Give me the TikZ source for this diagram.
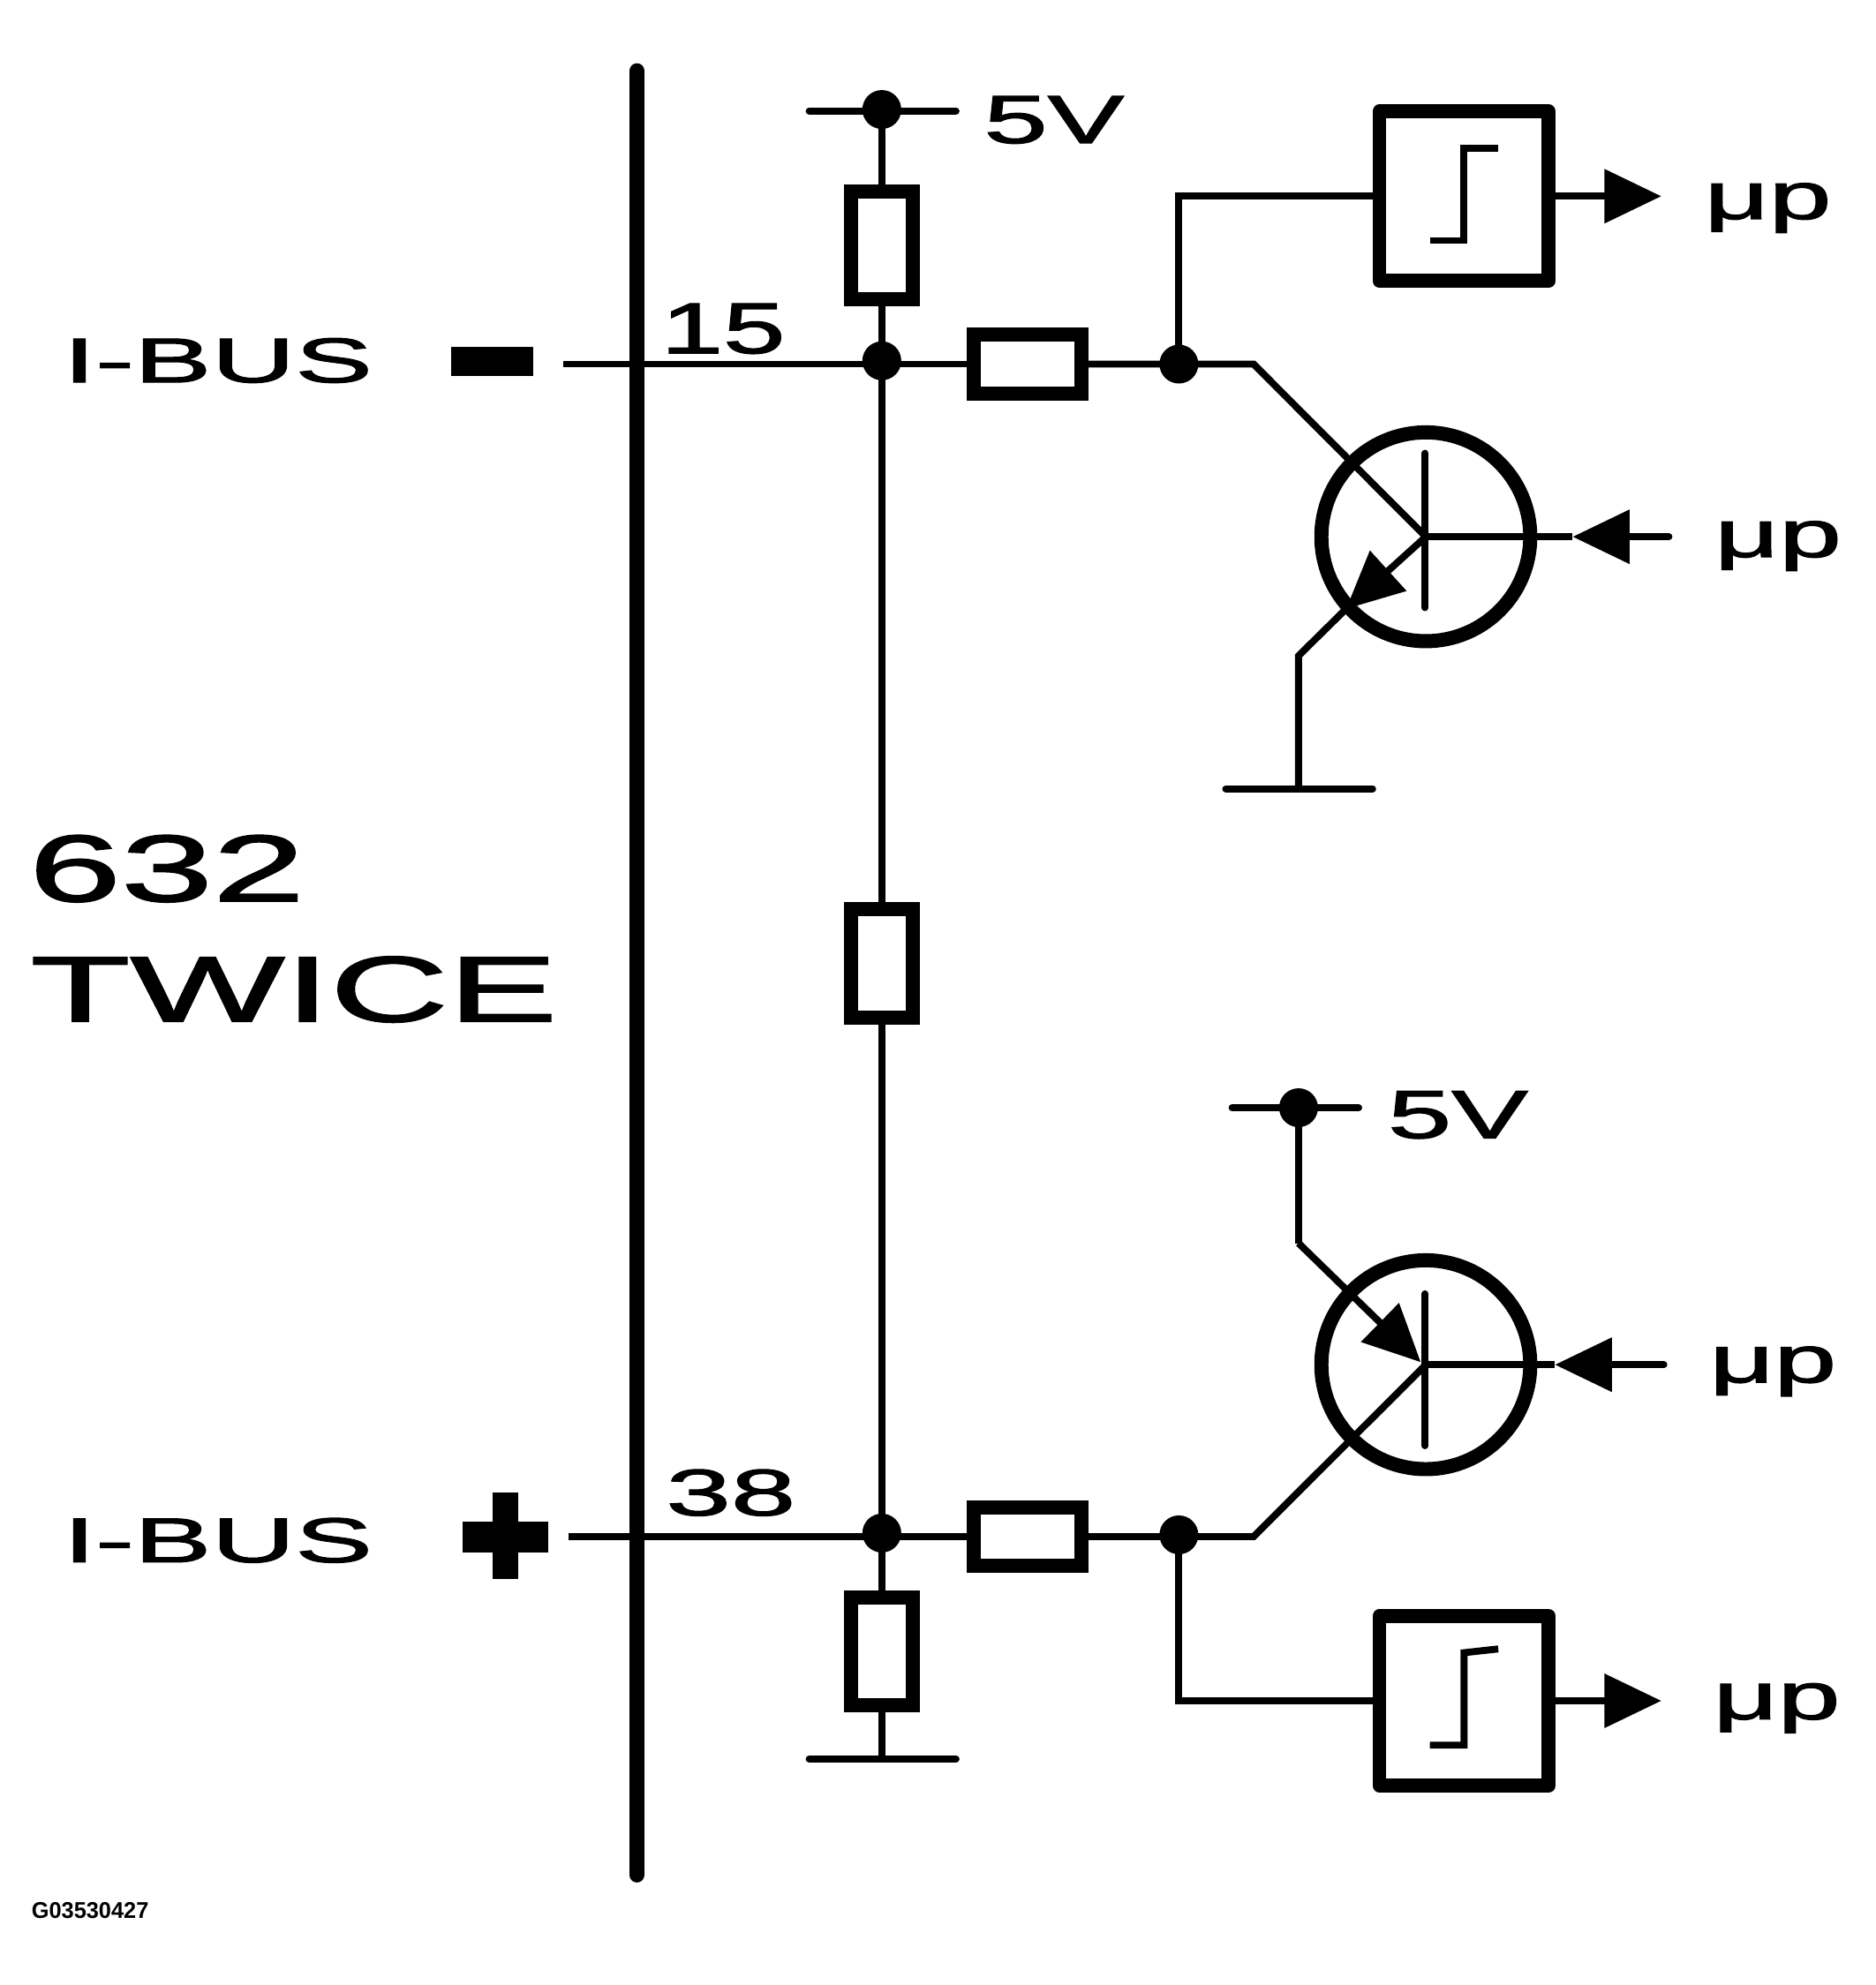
\documentclass[tikz,border=0pt]{standalone}
\usepackage{fontspec}
\setmainfont[FakeBold=1.4]{Liberation Sans}
\newfontfamily\plainsans{Liberation Sans}
\usetikzlibrary{arrows.meta}
\tikzset{
  wire/.style={line width=4.7pt,line cap=butt,line join=miter},
  rail/.style={line width=4.7pt,line cap=round},
  busbar/.style={line width=10.3pt,line cap=round},
  tipped/.style={wire,-{Triangle[length=38.4pt,width=35.6pt]}},
  rv/.style={draw,line width=9.5pt,minimum width=41.7pt,minimum height=72.7pt,inner sep=0pt,outer sep=0pt},
  rh/.style={draw,line width=9.5pt,minimum width=72.7pt,minimum height=39.7pt,inner sep=0pt,outer sep=0pt},
  trig/.style={draw,line width=9.5pt,line join=round,minimum width=114.1pt,minimum height=114.1pt,inner sep=0pt,outer sep=0pt},
  joint/.style={circle,fill=black,minimum size=26.2pt,inner sep=0pt,outer sep=0pt},
  trans/.style={circle,draw,line width=9.5pt,minimum size=140.8pt,inner sep=0pt,outer sep=0pt},
  lab/.style={anchor=base west,inner sep=0pt,outer sep=0pt,transform shape,text=black},
  pad/.style={fill=black,inner sep=0pt,outer sep=0pt},
}
\begin{document}
\begin{tikzpicture}[x=0.03cm,y=-0.03cm]
\useasboundingbox (0,0) rectangle (1481,1568);
% labels
\node[lab,xscale=1.83] (ibus1) at (50,302) {\fontsize{42.7pt}{44pt}\selectfont I-BUS};
\node[lab,xscale=1.83] (ibus2) at (50,1234) {\fontsize{42.7pt}{44pt}\selectfont I-BUS};
\node[lab,xscale=1.74] (n632) at (23,712) {\fontsize{64pt}{66pt}\selectfont 632};
\node[lab,xscale=1.75] (twice) at (24,807) {\fontsize{63pt}{66pt}\selectfont TWICE};
\node[lab,xscale=1.55] (n15) at (522,279) {\fontsize{48.6pt}{50pt}\selectfont 15};
\node[lab,xscale=1.77] (n38) at (526,1197) {\fontsize{44.4pt}{46pt}\selectfont 38};
\node[lab,xscale=1.68] (v1) at (777,113) {\fontsize{46pt}{48pt}\selectfont 5V};
\node[lab,xscale=1.68] (v2) at (1096,899) {\fontsize{46pt}{48pt}\selectfont 5V};
\node[lab,xscale=1.68] (mu1) at (1346,173) {\fontsize{45pt}{47pt}\selectfont μp};
\node[lab,xscale=1.68] (mu2) at (1354,440) {\fontsize{45pt}{47pt}\selectfont μp};
\node[lab,xscale=1.68] (mu3) at (1350,1092) {\fontsize{45pt}{47pt}\selectfont μp};
\node[lab,xscale=1.68] (mu4) at (1353,1358) {\fontsize{45pt}{47pt}\selectfont μp};
\node[lab,xscale=0.98] (code) at (25,1515) {\plainsans\fontsize{15.4pt}{16pt}\selectfont\bfseries G03530427};
% minus and plus signs
\node[pad,minimum width=55.5pt,minimum height=19.6pt] (minus) at (388.5,285.5) {};
\node[pad,minimum width=58pt,minimum height=20.5pt] (plusH) at (399,1214) {};
\node[pad,minimum width=17pt,minimum height=58pt] (plusV) at (399,1213) {};
% bus bar
\coordinate (barT) at (503,56);
\coordinate (barB) at (503,1481);
\draw[busbar] (barT) -- (barB);
% joints
\node[joint] (jV) at (696.4,86.5) {};
\node[joint] (j1) at (696.4,285) {};
\node[joint] (j2) at (696.4,1211) {};
\node[joint] (j3) at (931,287.6) {};
\node[joint] (j4) at (931,1212.4) {};
\node[joint] (jW) at (1025.5,875) {};
% resistors
\node[rv] (R1) at (696.4,193.6) {};
\node[rv] (R2) at (696.4,761) {};
\node[rv] (R3) at (696.4,1304.2) {};
\node[rh] (R4) at (811.5,287.6) {};
\node[rh] (R5) at (811.5,1213.8) {};
% trigger boxes
\node[trig] (S1) at (1156.2,155) {};
\node[trig] (S2) at (1156.2,1343.5) {};
% transistors
\node[trans] (T1) at (1126,424) {};
\node[trans] (T2) at (1126,1078) {};
% free ends
\coordinate (raL) at (639,87.6); \coordinate (raR) at (755,87.6);
\coordinate (ra2L) at (973,875); \coordinate (ra2R) at (1073,875);
\coordinate (gnL) at (639,1389.5); \coordinate (gnR) at (755,1389.5);
\coordinate (gn) at (696.4,1389.5);
\coordinate (gn2L) at (968,623); \coordinate (gn2R) at (1084,623);
\coordinate (gn2) at (1025.5,623);
\coordinate (w1) at (445,287.6); \coordinate (w2) at (449,1213.8);
\coordinate (k1) at (990,287.6); \coordinate (k2) at (990,1213.8);
\coordinate (e1) at (1025.5,518); \coordinate (tip1) at (1063,481);
\coordinate (e2) at (1025.5,982); \coordinate (tip2) at (1122,1076);
\coordinate (o1) at (1312,155); \coordinate (o2) at (1312,1343.5);
\coordinate (bi1) at (1318,424); \coordinate (bt1) at (1242,424);
\coordinate (bi2) at (1314,1078); \coordinate (bt2) at (1228,1078);
\coordinate (b1a) at (1125.5,358); \coordinate (b1b) at (1125.5,480);
\coordinate (b2a) at (1125.5,1022); \coordinate (b2b) at (1125.5,1142);
% wires
\draw[rail] (raL) -- (raR);
\draw[rail] (ra2L) -- (ra2R);
\draw[rail] (gnL) -- (gnR);
\draw[rail] (gn2L) -- (gn2R);
\draw[wire] (jV.center) -- (R1.north);
\draw[wire] (R1.south) -- (j1.center);
\draw[wire] (j1.center) -- (R2.north);
\draw[wire] (R2.south) -- (j2.center);
\draw[wire] (j2.center) -- (R3.north);
\draw[wire] (R3.south) -- (gn);
\draw[wire] (w1) -- (R4.west);
\draw[wire] (R4.east) -- (k1) -- (T1.center);
\draw[wire] (w2) -- (R5.west);
\draw[wire] (R5.east) -- (k2) -- (T2.center);
\draw[wire] (j3.center) |- (S1.west);
\draw[wire] (j4.center) |- (S2.west);
\draw[tipped] (S1.east) -- (o1);
\draw[tipped] (S2.east) -- (o2);
\draw[wire] (T1.center) -- (bt1);
\draw[tipped,line cap=round] (bi1) -- (bt1);
\draw[wire] (T2.center) -- (bt2);
\draw[tipped,line cap=round] (bi2) -- (bt2);
\draw[rail] (b1a) -- (b1b);
\draw[rail] (b2a) -- (b2b);
\draw[tipped] (T1.center) -- (tip1);
\draw[wire] (tip1) -- (e1) -- (gn2);
\draw[wire] (jW.center) -- (e2);
\draw[tipped] (e2) -- (tip2);
% step symbols
\draw[wire] (S1.center) ++(-27,35) coordinate (s1a) -- ++(27,0) -- ++(0,-73) -- ++(27,0);
\draw[wire] (S2.center) ++(-27,35) coordinate (s2a) -- ++(27,0) -- ++(0,-73) -- ++(27,-3);
\end{tikzpicture}
\end{document}
